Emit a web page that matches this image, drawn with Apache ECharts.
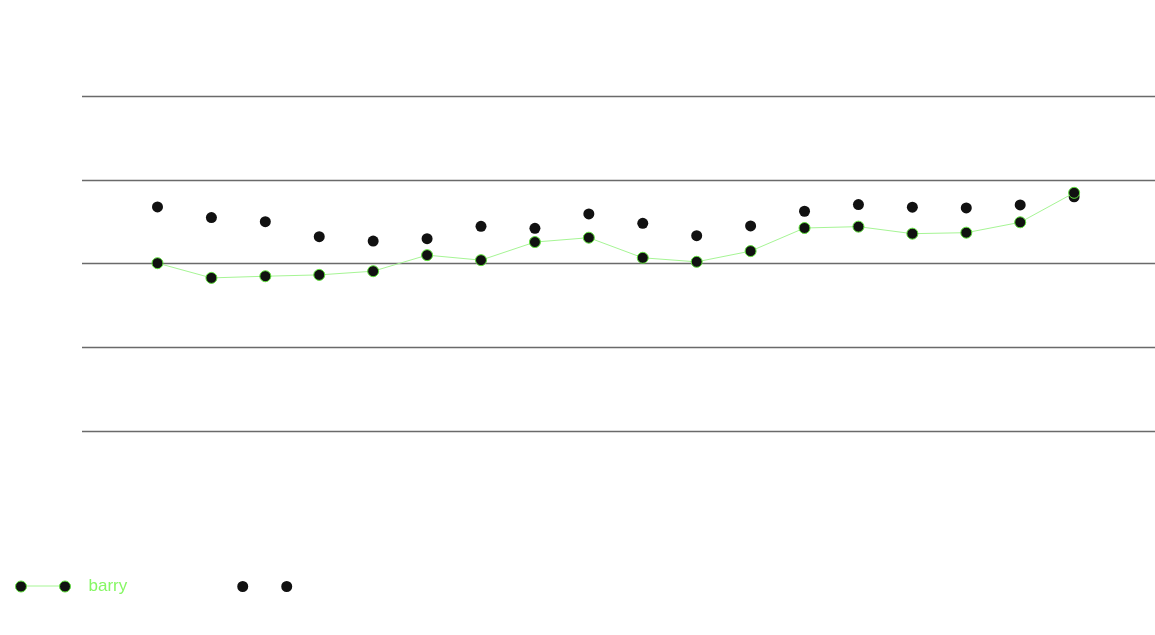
<!DOCTYPE html>
<html>
<head>
<meta charset="utf-8">
<script src="https://cdn.jsdelivr.net/npm/echarts@6/dist/echarts.min.js"></script>
<style>
  html, body { margin: 0; padding: 0; background: #ffffff; }
  #chart { width: 1155px; height: 635px; }
</style>
</head>
<body>
<div id="chart"></div>
<script>
// Data (x positions are category indices 0..17)
var categories = ['1','2','3','4','5','6','7','8','9','10','11','12','13','14','15','16','17','18'];
var barryValues = [50.1, 45.7, 46.2, 46.6, 47.7, 52.5, 51.0, 56.4, 57.7, 51.7, 50.5, 53.7, 60.6, 61.0, 58.9, 59.2, 62.3, 71.1];
var dotValues   = [66.9, 63.7, 62.5, 58.0, 56.7, 57.4, 61.1, 60.5, 64.8, 62.0, 58.3, 61.2, 65.6, 67.6, 66.8, 66.6, 67.5, 69.9];
var yTicks = [0, 25, 50, 75, 100];

function pairs(vals) {
  return vals.map(function (v, i) { return [i, v]; });
}

var circlePair = 'path://M0,5.5 a5.5,5.5 0 1,0 11,0 a5.5,5.5 0 1,0 -11,0 Z M44,5.5 a5.5,5.5 0 1,0 11,0 a5.5,5.5 0 1,0 -11,0 Z';

var chart = echarts.init(document.getElementById('chart'), null, { renderer: 'canvas' });
chart.setOption({
  animation: false,
  backgroundColor: '#ffffff',
  textStyle: { fontFamily: 'Liberation Sans, Arial, sans-serif' },
  grid: { left: 82, right: 0, top: 96, bottom: 204, containLabel: false },
  xAxis: {
    type: 'value',
    min: -1.4,
    max: 18.5,
    axisLine: { show: false },
    axisTick: { show: false },
    axisLabel: { show: false },
    splitLine: { show: false }
  },
  yAxis: {
    type: 'value',
    min: yTicks[0],
    max: yTicks[yTicks.length - 1],
    interval: yTicks[1] - yTicks[0],
    axisLine: { show: false },
    axisTick: { show: false },
    axisLabel: { show: false },
    splitLine: { show: true, lineStyle: { color: '#6a6a6a', width: 1.4 } }
  },
  graphic: [
    {
      type: 'line',
      z: 0,
      shape: { x1: 24, y1: 586, x2: 62, y2: 586 },
      style: { stroke: '#a6f594', lineWidth: 1 }
    }
  ],
  legend: {
    left: 10,
    top: 573,
    orient: 'horizontal',
    itemWidth: 55,
    itemHeight: 11,
    itemGap: 110,
    selectedMode: false,
    z: 5,
    textStyle: { fontSize: 17, fontFamily: 'Liberation Sans, Arial, sans-serif', padding: [0, 0, 0, 13] },
    data: [
      {
        name: 'barry',
        icon: circlePair,
        itemStyle: { color: '#111111', borderColor: '#5fe03c', borderWidth: 1 },
        textStyle: { color: '#86f764' }
      },
      {
        name: ' ',
        icon: circlePair,
        itemStyle: { color: '#111111', borderWidth: 0 }
      }
    ]
  },
  series: [
    {
      name: ' ',
      type: 'scatter',
      data: pairs(dotValues),
      symbol: 'circle',
      symbolSize: 11,
      itemStyle: { color: '#111111', opacity: 1 },
      z: 2
    },
    {
      name: 'barry',
      type: 'line',
      data: pairs(barryValues),
      symbol: 'circle',
      symbolSize: 11,
      showAllSymbol: true,
      lineStyle: { color: '#a6f594', width: 1 },
      itemStyle: { color: '#111111', borderColor: '#5fe03c', borderWidth: 1 },
      z: 3
    }
  ]
});
</script>
</body>
</html>
